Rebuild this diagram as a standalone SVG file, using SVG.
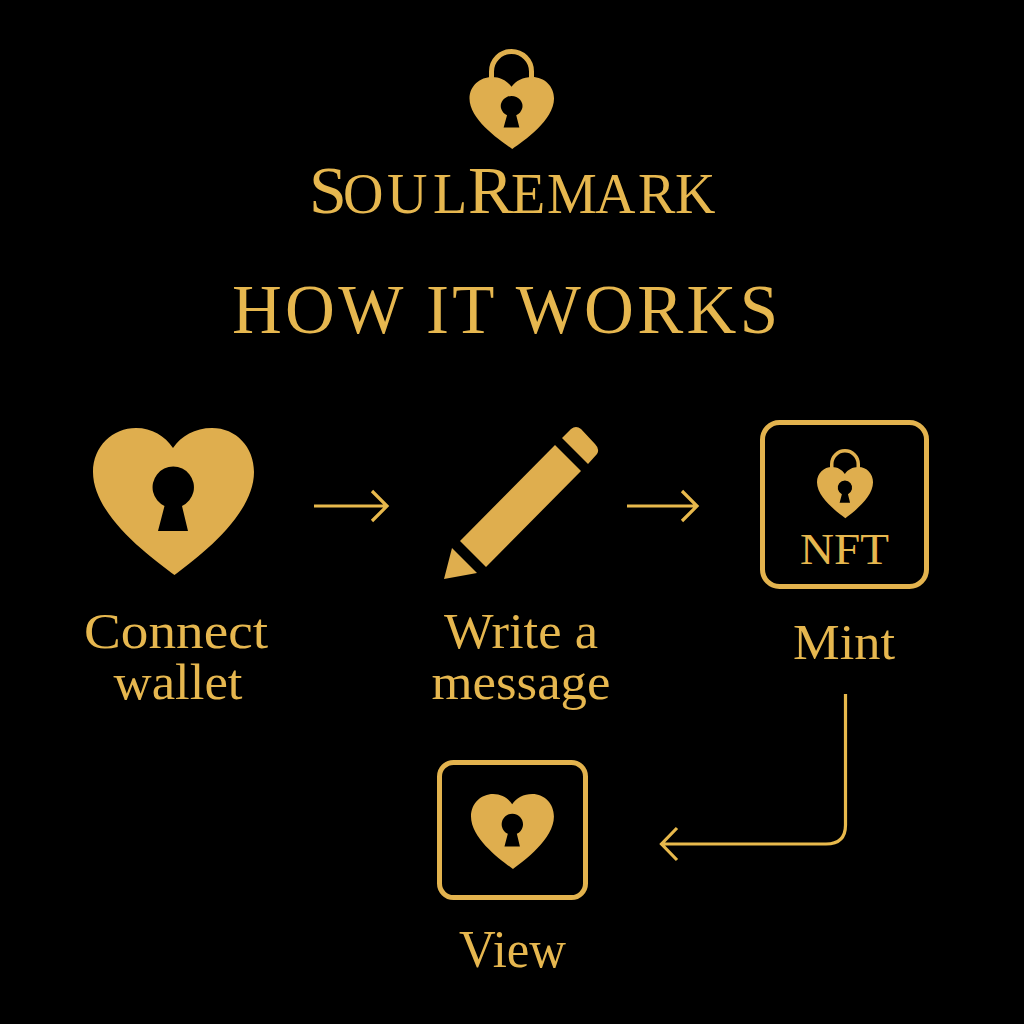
<svg xmlns="http://www.w3.org/2000/svg" width="1024" height="1024" viewBox="0 0 1024 1024">
<style>
text{font-family:"Liberation Serif","DejaVu Serif",serif;fill:#e6b74f;text-anchor:middle}
.g{fill:#dfae4e}
.l{fill:none;stroke:#e8b94c;stroke-width:3.200}
.box{fill:none;stroke:#e3b34e;stroke-width:5}
.sh{fill:none;stroke:#e0b04e}
</style>
<defs>
<g id="lockheart">
<path class="g" d="M81.500 147C60 131 0 88 0 44C0 18 20 0 43 0C59 0 72 8 80 20C88 8 102 0 119 0C143 0 161 19 161 44C161 88 103 131 81.500 147Z"/>
<path fill="#000" d="M71.500 78A20.700 20.700 0 1 1 89 78L95 103H65Z"/>
</g>
</defs>
<rect width="1024" height="1024" fill="#000"/>
<g id="logo">
<path class="sh" d="M491.500 82V71.500A20 20 0 0 1 531.500 71.500V82" stroke-width="5"/>
<use href="#lockheart" transform="translate(469.500 77) scale(.525 .49)"/>
<text style="text-anchor:start" y="213" font-size="68"><tspan x="309">S</tspan><tspan x="343" font-size="56">O</tspan><tspan x="387" font-size="56">U</tspan><tspan x="433" font-size="56">L</tspan><tspan x="468">R</tspan><tspan x="511" font-size="56">E</tspan><tspan x="547" font-size="56">M</tspan><tspan x="595" font-size="56">A</tspan><tspan x="638" font-size="56">R</tspan><tspan x="675" font-size="56">K</tspan></text>
</g>
<text id="title" x="505" y="333" font-size="69" textLength="546" lengthAdjust="spacing">HOW IT WORKS</text>
<g id="connect-wallet">
<use href="#lockheart" transform="translate(93 428)"/>
<text x="176" y="648" font-size="50" textLength="184" lengthAdjust="spacingAndGlyphs">Connect</text>
<text x="178" y="699" font-size="50" textLength="129" lengthAdjust="spacingAndGlyphs">wallet</text>
</g>
<g id="write-message">
<path class="g" d="M555 445L581 471L486 567L460 541ZM452 548L477 573L444 579ZM562 438L571 429Q576 425 581 429L595 444Q600 449 597 454L588 464Z"/>
<text x="521" y="648" font-size="50" textLength="154" lengthAdjust="spacingAndGlyphs">Write a</text>
<text x="521" y="699" font-size="50" textLength="179" lengthAdjust="spacingAndGlyphs">message</text>
</g>
<g id="mint">
<rect class="box" x="762.500" y="422.500" width="164" height="164" rx="17"/>
<path class="sh" d="M831.750 472V464A13.250 13.250 0 0 1 858.250 464V472" stroke-width="3.500"/>
<use href="#lockheart" transform="translate(817 467) scale(.348)"/>
<text x="844.500" y="564" font-size="45" textLength="89" lengthAdjust="spacingAndGlyphs">NFT</text>
<text x="844" y="659" font-size="51" textLength="102" lengthAdjust="spacingAndGlyphs">Mint</text>
</g>
<g id="view">
<rect class="box" x="439.500" y="762.500" width="146" height="135" rx="14"/>
<use href="#lockheart" transform="translate(471 794) scale(.515 .51)"/>
<text x="512.500" y="967" font-size="52" textLength="107" lengthAdjust="spacingAndGlyphs">View</text>
</g>
<g id="connectors">
<path class="l" d="M314 506H385M372 491L387 506L372 521"/>
<path class="l" d="M627 506H696M682 491L697 506L682 521"/>
<path class="l" d="M845.500 694V825Q845.500 844 826 844H663M677 828L661.500 844L677 860"/>
</g>
</svg>
